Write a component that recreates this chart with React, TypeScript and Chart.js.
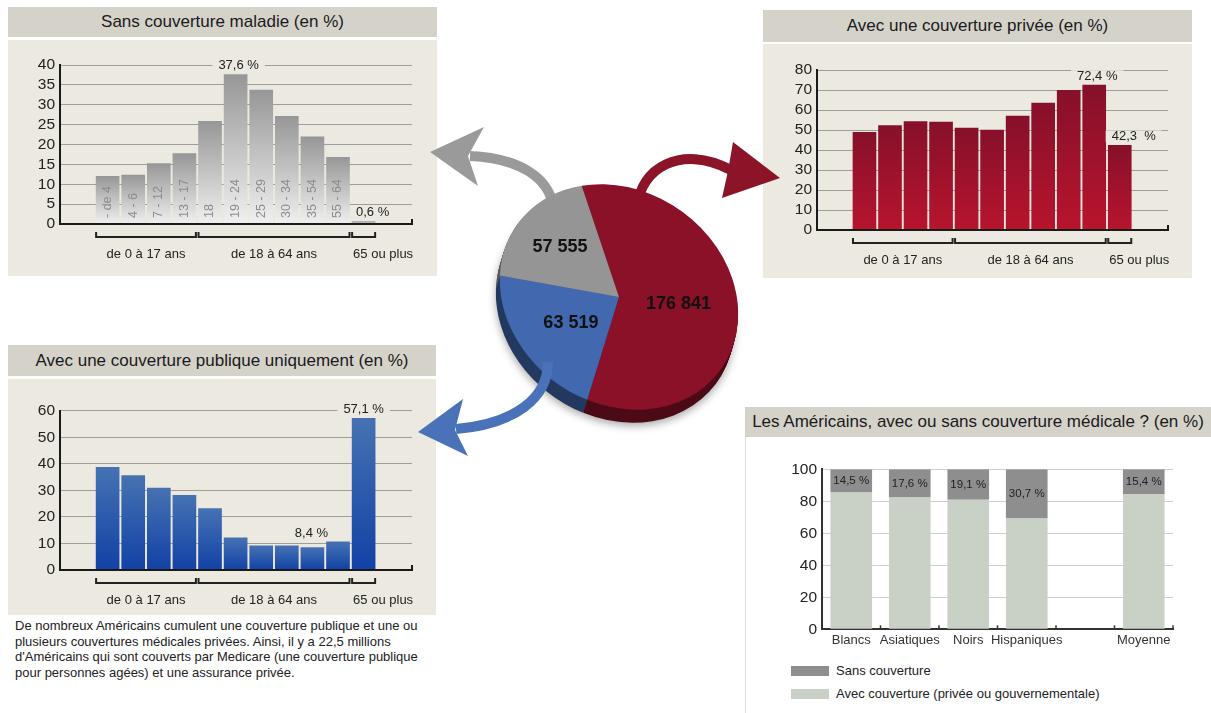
import React, { useEffect, useRef } from "react";
import { Chart, registerables } from "chart.js";

Chart.register(...registerables);

const FONT = '"Liberation Sans", Arial, Helvetica, sans-serif';
Chart.defaults.font.family = FONT;

// ---------------- data ----------------
const ageGroups = ["- de 4", "4 - 6", "7 - 12", "13 - 17", "18", "19 - 24", "25 - 29", "30 - 34", "35 - 54", "55 - 64", "65 ou plus"];
const insideAgeLabels = ["- de 4", "4 - 6", "7 - 12", "13 - 17", "18", "19 - 24", "25 - 29", "30 - 34", "35 - 54", "55 - 64", ""];
const uninsuredByAge = [12.0, 12.3, 15.2, 17.7, 25.8, 37.6, 33.7, 27.1, 21.9, 16.8, 0.6];
const privateByAge = [48.8, 52.2, 54.2, 54.0, 51.0, 50.0, 57.0, 63.5, 69.8, 72.4, 42.3];
const publicOnlyByAge = [38.7, 35.6, 30.9, 28.1, 23.1, 12.1, 9.1, 9.1, 8.4, 10.6, 57.1];
const ageBrackets = ["de 0 à 17 ans", "de 18 à 64 ans", "65 ou plus"];
const ageBracketRanges = [[0, 3], [4, 9], [10, 10]];

const pieLabels = ["Couverture privée", "Couverture publique uniquement", "Sans couverture"];
const pieValues = [176841, 63519, 57555];

const ethnicGroups = ["Blancs", "Asiatiques", "Noirs", "Hispaniques", "", "Moyenne"];
const uninsuredByGroup = [14.5, 17.6, 19.1, 30.7, null, 15.4];
const insuredByGroup = [85.5, 82.4, 80.9, 69.3, null, 84.6];
const legendLabels = ["Sans couverture", "Avec couverture (privée ou gouvernementale)"];

const noteText =
  "De nombreux Américains cumulent une couverture publique et une ou|plusieurs couvertures médicales privées. Ainsi, il y a 22,5 millions|d'Américains qui sont couverts par Medicare (une couverture publique|pour personnes agées) et une assurance privée.";

// ---------------- helpers ----------------
const HEADER_BG = "#d5d2ca";
const BODY_BG = "#ece9e0";

const fmt = (v: number) => v.toFixed(1).replace(".", ",");
const fmtThousands = (v: number) => String(v).replace(/\B(?=(\d{3})+(?!\d))/g, " ");

const barGradient = (top: string, bottom: string) => (c: any) => {
  const chart = c.chart;
  const ca = chart.chartArea;
  if (!ca || c.type !== "data" || c.parsed == null) return bottom;
  const yTop = chart.scales.y.getPixelForValue(c.parsed.y);
  const g = chart.ctx.createLinearGradient(0, yTop, 0, ca.bottom);
  g.addColorStop(0, top);
  g.addColorStop(1, bottom);
  return g;
};

type Note = { i: number; dx: number; dy: number; suffix?: string };

function makeHistoPlugin(o: { bg: string; notes: Note[]; inside?: string[] }) {
  return {
    id: "histo",
    afterDatasetsDraw(chart: any) {
      const { ctx, chartArea: ca } = chart;
      const meta = chart.getDatasetMeta(0);
      const data = chart.data.datasets[0].data;
      ctx.save();
      if (o.inside) {
        ctx.fillStyle = "#8c8c8c";
        ctx.font = `12.5px ${FONT}`;
        ctx.textAlign = "left";
        ctx.textBaseline = "middle";
        o.inside.forEach((t, i) => {
          if (!t) return;
          const el = meta.data[i];
          ctx.save();
          ctx.translate(el.x, ca.bottom - 6);
          ctx.rotate(-Math.PI / 2);
          ctx.fillText(t, 0, 0);
          ctx.restore();
        });
      }
      // x axis line with end tick
      ctx.strokeStyle = "#1a1a1a";
      ctx.lineWidth = 2;
      ctx.beginPath();
      ctx.moveTo(ca.left, ca.bottom);
      ctx.lineTo(ca.right, ca.bottom);
      ctx.lineTo(ca.right, ca.bottom - 5);
      ctx.stroke();
      // brackets
      ageBracketRanges.forEach(([a, b], g) => {
        const ea = meta.data[a];
        const eb = meta.data[b];
        const x0 = ea.x - ea.width / 2;
        const x1 = eb.x + eb.width / 2;
        const y = ca.bottom + 13;
        ctx.strokeStyle = "#222";
        ctx.lineWidth = 2;
        ctx.beginPath();
        ctx.moveTo(x0, y - 5);
        ctx.lineTo(x0, y);
        ctx.lineTo(x1, y);
        ctx.lineTo(x1, y - 5);
        ctx.stroke();
        ctx.fillStyle = "#222";
        ctx.font = `13px ${FONT}`;
        ctx.textBaseline = "middle";
        if (g === ageBracketRanges.length - 1) {
          ctx.textAlign = "left";
          ctx.fillText(ageBrackets[g], x0 + 1, ca.bottom + 30);
        } else {
          ctx.textAlign = "center";
          ctx.fillText(ageBrackets[g], (x0 + x1) / 2, ca.bottom + 30);
        }
      });
      // value notes
      ctx.font = `13px ${FONT}`;
      ctx.textAlign = "center";
      ctx.textBaseline = "middle";
      o.notes.forEach((n) => {
        const el = meta.data[n.i];
        const text = fmt(data[n.i].y) + (n.suffix ?? " %");
        const x = el.x + n.dx;
        const y = el.y - n.dy;
        const w = ctx.measureText(text).width + 12;
        ctx.fillStyle = o.bg;
        ctx.fillRect(x - w / 2, y - 6, w, 12);
        ctx.fillStyle = "#222";
        ctx.fillText(text, x, y);
      });
      ctx.restore();
    },
  };
}

function histogramConfig(opts: {
  values: number[];
  yMax: number;
  step: number;
  yWidth: number;
  padding: any;
  top: string;
  bottom: string;
  notes: Note[];
  inside?: string[];
}) {
  return {
    type: "bar",
    data: {
      labels: ageGroups,
      datasets: [
        {
          data: opts.values.map((v, i) => ({ x: i, y: v })),
          backgroundColor: barGradient(opts.top, opts.bottom),
          borderWidth: 0,
          barThickness: 23,
        },
      ],
    },
    options: {
      animation: false,
      responsive: false,
      layout: { padding: opts.padding },
      plugins: { legend: { display: false }, tooltip: { enabled: false } },
      scales: {
        x: { type: "linear", min: -1.86, max: 11.89, offset: false, display: false },
        y: {
          min: 0,
          max: opts.yMax,
          ticks: {
            stepSize: opts.step,
            autoSkip: false,
            maxTicksLimit: 50,
            color: "#222",
            font: { size: 15.5 },
            padding: 5,
          },
          grid: { color: "#9d9d9d", drawTicks: false, lineWidth: 1 },
          border: { display: true, color: "#1a1a1a", width: 2 },
          afterFit: (s: any) => {
            s.width = opts.yWidth;
          },
        },
      },
    },
    plugins: [makeHistoPlugin({ bg: BODY_BG, notes: opts.notes, inside: opts.inside })],
  };
}

const stackPlugin = {
  id: "stackLabels",
  afterDatasetsDraw(chart: any) {
    const { ctx, chartArea: ca } = chart;
    const meta = chart.getDatasetMeta(1);
    const data = chart.data.datasets[1].data;
    ctx.save();
    ctx.font = `11.5px ${FONT}`;
    ctx.fillStyle = "#222";
    ctx.textAlign = "center";
    ctx.textBaseline = "middle";
    meta.data.forEach((el: any, i: number) => {
      const v = data[i];
      if (v == null) return;
      ctx.fillText(fmt(v) + " %", el.x, (el.y + el.base) / 2);
    });
    const n = chart.data.labels.length;
    const slot = (ca.right - ca.left) / n;
    ctx.strokeStyle = "#333";
    ctx.lineWidth = 1.5;
    for (let k = 1; k <= n; k++) {
      const x = ca.left + k * slot;
      ctx.beginPath();
      ctx.moveTo(x, ca.bottom);
      ctx.lineTo(x, ca.bottom - 4);
      ctx.stroke();
    }
    ctx.restore();
  },
};

const PIE = {
  tiltDeg: 35,
  squash: 0.85,
  dx: -4,
  dy: 13,
  depth: 13,
  side: ["#4c0b17", "#24395f", "#5a5a5a"],
  labelK: [0.5, 0.5, 0.62],
};

function pieMatrix(cx: number, cy: number) {
  return new DOMMatrix()
    .translate(cx, cy)
    .rotate(PIE.tiltDeg)
    .scale(1, PIE.squash)
    .rotate(-PIE.tiltDeg)
    .translate(-cx, -cy);
}

const pie3dPlugin = {
  id: "pie3d",
  beforeDatasetsDraw(chart: any) {
    const { ctx } = chart;
    const meta = chart.getDatasetMeta(0);
    const first = meta.data[0];
    const cx = first.x;
    const cy = first.y;
    const m = pieMatrix(cx, cy);
    ctx.save();
    for (let d = PIE.depth; d >= 1; d--) {
      ctx.save();
      ctx.translate((PIE.dx * d) / PIE.depth, (PIE.dy * d) / PIE.depth);
      ctx.transform(m.a, m.b, m.c, m.d, m.e, m.f);
      if (d === PIE.depth) {
        ctx.shadowColor = "rgba(0,0,0,0.35)";
        ctx.shadowBlur = 8;
        ctx.shadowOffsetY = 3;
      }
      meta.data.forEach((arc: any, i: number) => {
        const p = arc.getProps(["x", "y", "startAngle", "endAngle", "outerRadius"]);
        ctx.beginPath();
        ctx.moveTo(p.x, p.y);
        ctx.arc(p.x, p.y, p.outerRadius, p.startAngle, p.endAngle);
        ctx.closePath();
        ctx.fillStyle = PIE.side[i];
        ctx.fill();
      });
      ctx.restore();
    }
    ctx.restore();
    ctx.save();
    ctx.transform(m.a, m.b, m.c, m.d, m.e, m.f);
  },
  afterDatasetsDraw(chart: any) {
    const { ctx } = chart;
    ctx.restore();
    const meta = chart.getDatasetMeta(0);
    const data = chart.data.datasets[0].data;
    ctx.save();
    ctx.font = `bold 18px ${FONT}`;
    ctx.fillStyle = "#111";
    ctx.textAlign = "center";
    ctx.textBaseline = "middle";
    meta.data.forEach((arc: any, i: number) => {
      const p = arc.getProps(["x", "y", "startAngle", "endAngle", "outerRadius"]);
      const mid = (p.startAngle + p.endAngle) / 2;
      const r = p.outerRadius * PIE.labelK[i];
      const m = pieMatrix(p.x, p.y);
      const pt = m.transformPoint(new DOMPoint(p.x + r * Math.cos(mid), p.y + r * Math.sin(mid)));
      ctx.fillText(fmtThousands(data[i]), pt.x, pt.y);
    });
    ctx.restore();
  },
};

// ---------------- components ----------------
function ChartBox({ left, top, width, height, make }: any) {
  const ref = useRef<HTMLCanvasElement>(null);
  useEffect(() => {
    const chart = new Chart(ref.current as HTMLCanvasElement, make());
    return () => chart.destroy();
  }, []);
  return (
    <canvas
      ref={ref}
      width={width}
      height={height}
      style={{ position: "absolute", left, top, width, height, display: "block" }}
    />
  );
}

function Box({ left, top, width, height, bg, children, style }: any) {
  return (
    <div style={{ position: "absolute", left, top, width, height, background: bg, ...style }}>{children}</div>
  );
}

function Header({ left, top, width, height, text }: any) {
  return (
    <div
      style={{
        position: "absolute",
        left,
        top,
        width,
        height,
        background: HEADER_BG,
        color: "#1a1a1a",
        fontSize: 17,
        lineHeight: `${height}px`,
        textAlign: "center",
        whiteSpace: "nowrap",
      }}
    >
      {text}
    </div>
  );
}

export default function App() {
  return (
    <div
      style={{
        position: "absolute",
        left: 0,
        top: 0,
        width: 1211,
        height: 713,
        background: "#fff",
        overflow: "hidden",
        fontFamily: FONT,
      }}
    >
      {/* Panel 1 */}
      <Header left={8} top={7} width={429} height={30} text="Sans couverture maladie (en %)" />
      <Box left={8} top={40} width={429} height={236} bg={BODY_BG} />
      <ChartBox
        left={8}
        top={40}
        width={429}
        height={236}
        make={() =>
          histogramConfig({
            values: uninsuredByAge,
            yMax: 40,
            step: 5,
            yWidth: 52,
            padding: { top: 25, right: 25, bottom: 52, left: 0 },
            top: "#979797",
            bottom: "#f0f0f0",
            notes: [
              { i: 5, dx: 3, dy: 9 },
              { i: 10, dx: 9, dy: 9 },
            ],
            inside: insideAgeLabels,
          })
        }
      />

      {/* Panel 2 */}
      <Header left={763} top={10} width={429} height={32} text="Avec une couverture privée (en %)" />
      <Box left={763} top={44} width={429} height={234} bg={BODY_BG} />
      <ChartBox
        left={763}
        top={44}
        width={429}
        height={234}
        make={() =>
          histogramConfig({
            values: privateByAge,
            yMax: 80,
            step: 10,
            yWidth: 54,
            padding: { top: 26, right: 24, bottom: 48, left: 0 },
            top: "#86102a",
            bottom: "#b8142d",
            notes: [
              { i: 9, dx: 3, dy: 9 },
              { i: 10, dx: 14, dy: 9, suffix: "  %" },
            ],
          })
        }
      />

      {/* Panel 3 */}
      <Header left={8} top={345} width={428} height={31} text="Avec une couverture publique uniquement (en %)" />
      <Box left={8} top={379} width={428} height={236} bg={BODY_BG} />
      <ChartBox
        left={8}
        top={379}
        width={428}
        height={236}
        make={() =>
          histogramConfig({
            values: publicOnlyByAge,
            yMax: 60,
            step: 10,
            yWidth: 52,
            padding: { top: 31.7, right: 24, bottom: 45, left: 0 },
            top: "#4672b2",
            bottom: "#1141a6",
            notes: [
              { i: 10, dx: 0, dy: 9 },
              { i: 8, dx: -1, dy: 14 },
            ],
          })
        }
      />
      <div
        style={{
          position: "absolute",
          left: 15,
          top: 618,
          fontSize: 13,
          lineHeight: "15.5px",
          color: "#222",
          whiteSpace: "nowrap",
        }}
      >
        {noteText.split("|").map((l, i) => (
          <div key={i}>{l}</div>
        ))}
      </div>

      {/* Panel 4 */}
      <Header left={745} top={407} width={466} height={30} text="Les Américains, avec ou sans couverture médicale ? (en %)" />
      <Box left={745} top={437} width={1} height={276} bg="#dcdcdc" />
      <ChartBox
        left={746}
        top={440}
        width={465}
        height={220}
        make={() => ({
          type: "bar",
          data: {
            labels: ethnicGroups,
            datasets: [
              { label: legendLabels[1], data: insuredByGroup, backgroundColor: "#c9d1c6", borderWidth: 0 },
              { label: legendLabels[0], data: uninsuredByGroup, backgroundColor: "#8e8e8e", borderWidth: 0 },
            ],
          },
          options: {
            animation: false,
            responsive: false,
            layout: { padding: { top: 29.3, right: 38, left: 0, bottom: 0 } },
            datasets: { bar: { categoryPercentage: 1, barPercentage: 0.712 } },
            plugins: { legend: { display: false }, tooltip: { enabled: false } },
            scales: {
              x: {
                stacked: true,
                grid: { display: true, drawOnChartArea: false, drawTicks: false },
                border: { display: true, color: "#333", width: 2 },
                ticks: { color: "#333", font: { size: 13 }, padding: 3, maxRotation: 0, autoSkip: false },
                afterFit: (s: any) => {
                  s.height = 30.7;
                },
              },
              y: {
                stacked: true,
                min: 0,
                max: 100,
                ticks: { stepSize: 20, autoSkip: false, color: "#222", font: { size: 15.5 }, padding: 5 },
                grid: { color: "#cfcfcf", drawTicks: false },
                border: { display: true, color: "#333", width: 2 },
                afterFit: (s: any) => {
                  s.width = 76;
                },
              },
            },
          },
          plugins: [stackPlugin],
        })}
      />
      {/* legend */}
      <Box left={791} top={666} width={38} height={10} bg="#8e8e8e" />
      <div style={{ position: "absolute", left: 836, top: 663, fontSize: 13, lineHeight: "16px", color: "#222" }}>
        {legendLabels[0]}
      </div>
      <Box left={791} top={689} width={38} height={10} bg="#c9d1c6" />
      <div style={{ position: "absolute", left: 836, top: 686, fontSize: 13, lineHeight: "16px", color: "#222" }}>
        {legendLabels[1]}
      </div>

      {/* arrows behind pie */}
      <svg width={1211} height={713} style={{ position: "absolute", left: 0, top: 0 }}>
        <path d="M 553 205 C 548 178, 520 158, 470 156" stroke="#9a9a9a" strokeWidth={10} fill="none" />
        <polygon points="430,152 484,127 468,156 478,186" fill="#9a9a9a" />
        <path d="M 638 205 C 640 170, 680 143, 731 170" stroke="#8b1429" strokeWidth={10} fill="none" />
        <polygon points="780,178 733,142 728,171 722,198" fill="#8b1429" />
      </svg>

      {/* pie */}
      <ChartBox
        left={469}
        top={147}
        width={300}
        height={300}
        make={() => ({
          type: "pie",
          data: {
            labels: pieLabels,
            datasets: [{ data: pieValues, backgroundColor: ["#8a1128", "#4268b0", "#959595"], borderWidth: 0 }],
          },
          options: {
            animation: false,
            responsive: false,
            rotation: -14,
            layout: { padding: 25 },
            plugins: { legend: { display: false }, tooltip: { enabled: false } },
          },
          plugins: [pie3dPlugin],
        })}
      />

      {/* blue arrow over pie */}
      <svg width={1211} height={713} style={{ position: "absolute", left: 0, top: 0, pointerEvents: "none" }}>
        <path d="M 548 362 C 548 398, 515 424, 456 429" stroke="#4a72b8" strokeWidth={10} fill="none" />
        <polygon points="418,432 463,399 455,430 468,456" fill="#4a72b8" />
      </svg>
    </div>
  );
}
